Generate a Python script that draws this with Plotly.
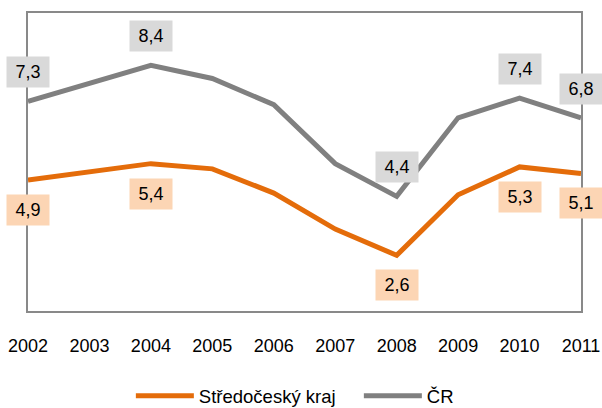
import plotly.graph_objects as go

years = [2002, 2003, 2004, 2005, 2006, 2007, 2008, 2009, 2010, 2011]
stredocesky = [4.9, 5.15, 5.4, 5.24, 4.5, 3.4, 2.6, 4.45, 5.3, 5.1]
cr = [7.3, 7.85, 8.4, 8.0, 7.2, 5.4, 4.4, 6.8, 7.4, 6.8]
label_idx = [0, 2, 6, 8, 9]

ORANGE = "#E46C0A"
GRAY = "#808080"
FONT = "Liberation Sans, Arial, sans-serif"

fig = go.Figure()
fig.add_trace(go.Scatter(x=years, y=stredocesky, mode="lines", name="Středočeský kraj",
                         line=dict(color=ORANGE, width=5)))
fig.add_trace(go.Scatter(x=years, y=cr, mode="lines", name="ČR",
                         line=dict(color=GRAY, width=5)))

def fmt(v):
    return f"{v:.1f}".replace(".", ",")

for i in label_idx:
    fig.add_annotation(x=years[i], y=cr[i], xref="x", yref="y", text=fmt(cr[i]), showarrow=False,
                       xanchor="center", yanchor="middle", yshift=29, bgcolor="#D9D9D9",
                       width=42, height=30, borderpad=0, font=dict(size=18, color="#000", family=FONT))
    fig.add_annotation(x=years[i], y=stredocesky[i], xref="x", yref="y", text=fmt(stredocesky[i]), showarrow=False,
                       xanchor="center", yanchor="middle", yshift=-30, bgcolor="#FCD5B4",
                       width=42, height=30, borderpad=0, font=dict(size=18, color="#000", family=FONT))

fig.update_layout(
    width=602, height=408,
    margin=dict(l=28, r=21, t=13, b=97, autoexpand=False),
    paper_bgcolor="white", plot_bgcolor="white",
    font=dict(family=FONT, size=18, color="#000"),
    showlegend=True,
    legend=dict(orientation="h", x=0.186, xanchor="left", y=-0.286, yanchor="middle",
                font=dict(size=18.5), itemwidth=58, entrywidth=155, bgcolor="rgba(0,0,0,0)"),
)
fig.update_xaxes(range=[2002, 2011], tickvals=years, ticktext=[str(y) for y in years],
                 showgrid=False, zeroline=False, automargin=False, ticklabeloverflow="allow",
                 showline=True, mirror=True, linecolor="#898989", linewidth=1.5,
                 ticks="outside", ticklen=18, tickcolor="rgba(0,0,0,0)",
                 tickfont=dict(size=18, family=FONT, color="#000"))
fig.update_yaxes(range=[0.9, 10.0], showgrid=False, zeroline=False, showticklabels=False,
                 automargin=False,
                 showline=True, mirror=True, linecolor="#898989", linewidth=1.5)

# remove the browser's default 8px body margin so the 602x408 figure fills the window exactly
fig.write_html("out.html", config={"displayModeBar": False},
               post_script="document.body.style.margin='0';")
